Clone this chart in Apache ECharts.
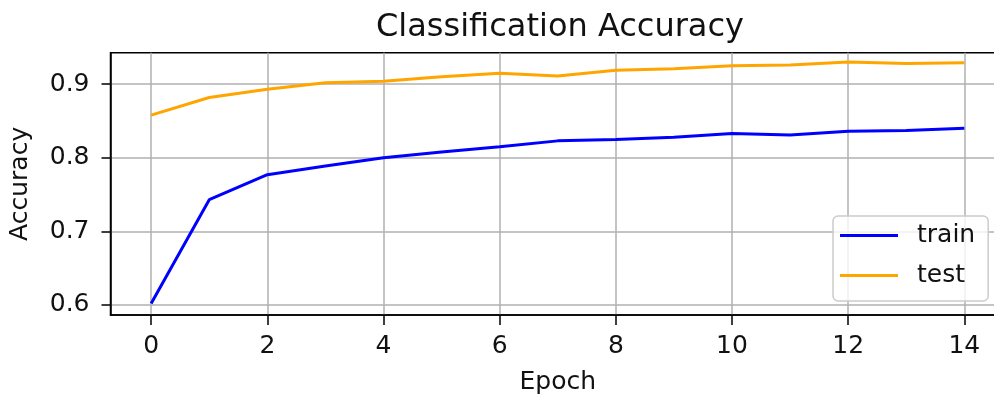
<!DOCTYPE html>
<html>
<head>
<meta charset="utf-8">
<script src="https://cdn.jsdelivr.net/npm/echarts@6/dist/echarts.min.js"></script>
<style>
html,body{margin:0;padding:0;background:#fff;}
#chart{width:994px;height:398px;}
</style>
</head>
<body>
<div id="chart"></div>
<script>
const epochs = [0,1,2,3,4,5,6,7,8,9,10,11,12,13,14];
const trainAcc = [0.602,0.743,0.777,0.789,0.800,0.808,0.815,0.823,0.825,0.828,0.833,0.831,0.836,0.837,0.840];
const testAcc = [0.858,0.882,0.893,0.902,0.904,0.910,0.915,0.911,0.919,0.921,0.925,0.926,0.930,0.928,0.929];
const xTicks = [0,2,4,6,8,10,12,14];
const yTicks = [0.6,0.7,0.8,0.9];

const font = 'DejaVu Sans';
const chart = echarts.init(document.getElementById('chart'));
chart.setOption({
  animation: false,
  backgroundColor: '#fff',
  title: {
    text: 'Classification Accuracy',
    left: 555, top: 7, textAlign: 'center',
    textStyle: {fontFamily: font, fontSize: 32, fontWeight: 'normal', color: '#111'}
  },
  grid: {
    left: 110.5, top: 52.7, width: 894.5, height: 262.3,
    outerBoundsMode: 'none', containLabel: false,
    show: true, borderColor: '#000', borderWidth: 1.5, backgroundColor: 'transparent'
  },
  legend: {
    orient: 'vertical', left: 833, top: 216,
    padding: [7, 13, 13, 7],
    itemGap: 15,
    icon: 'rect', itemWidth: 58, itemHeight: 3,
    backgroundColor: 'rgba(255,255,255,0.8)',
    borderColor: '#cccccc', borderWidth: 1.5, borderRadius: 5,
    textStyle: {fontFamily: font, fontSize: 25, color: '#111', padding: [0,0,0,14], lineHeight: 25},
    data: ['train', 'test']
  },
  xAxis: {
    type: 'value', min: -0.7, max: 14.7,
    name: 'Epoch', nameLocation: 'middle', nameGap: 55,
    nameTextStyle: {fontFamily: font, fontSize: 25, color: '#111'},
    axisLine: {show: true, onZero: false, lineStyle: {color: '#000', width: 1.5}},
    axisTick: {show: true, length: 10, customValues: xTicks, lineStyle: {color: '#000', width: 1.5}},
    axisLabel: {customValues: xTicks, fontFamily: font, fontSize: 25, color: '#111', margin: 19},
    splitLine: {show: true, lineStyle: {color: '#b0b0b0', width: 1.5}}
  },
  yAxis: {
    type: 'value', min: 0.5864, max: 0.9428,
    name: 'Accuracy', nameLocation: 'middle', nameGap: 78, nameRotate: 90,
    nameTextStyle: {fontFamily: font, fontSize: 25, color: '#111'},
    axisLine: {show: true, onZero: false, lineStyle: {color: '#000', width: 1.5}},
    axisTick: {show: true, length: 9, customValues: yTicks, lineStyle: {color: '#000', width: 1.5}},
    axisLabel: {customValues: yTicks, fontFamily: font, fontSize: 25, color: '#111', margin: 21,
      formatter: v => v.toFixed(1)},
    splitLine: {show: true, lineStyle: {color: '#b0b0b0', width: 1.5}}
  },
  series: [
    {name: 'train', type: 'line', data: epochs.map((e,i)=>[e, trainAcc[i]]),
     showSymbol: false, symbol: 'none', lineStyle: {color: '#0000ff', width: 3}, itemStyle: {color: '#0000ff'}, z: 3},
    {name: 'test', type: 'line', data: epochs.map((e,i)=>[e, testAcc[i]]),
     showSymbol: false, symbol: 'none', lineStyle: {color: '#ffa500', width: 3}, itemStyle: {color: '#ffa500'}, z: 3}
  ]
});
</script>
</body>
</html>
